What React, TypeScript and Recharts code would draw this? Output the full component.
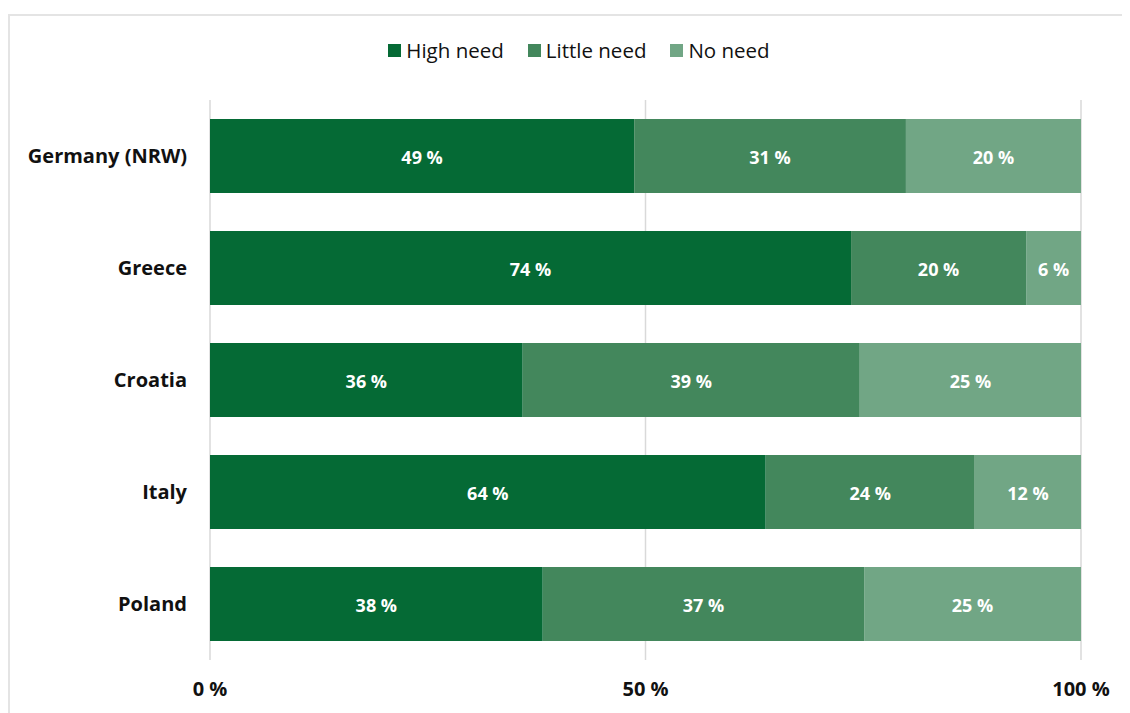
import React from 'react';
import { BarChart, Bar, XAxis, YAxis, CartesianGrid, Legend, LabelList } from 'recharts';

const countries = ['Germany (NRW)', 'Greece', 'Croatia', 'Italy', 'Poland'];
const highNeed = [48.7, 73.6, 35.9, 63.8, 38.2];
const littleNeed = [31.2, 20.1, 38.7, 24.0, 36.9];
const noNeed = [20.1, 6.3, 25.4, 12.2, 24.9];
const xTicks = [0, 50, 100];

const seriesNames = ['High need', 'Little need', 'No need'];
const colors = ['#056a35', '#43875c', '#71a685'];

const data = countries.map((name, i) => ({
  name,
  high: highNeed[i],
  little: littleNeed[i],
  none: noNeed[i],
}));

const FONT = '"Open Sans", "Noto Sans", sans-serif';

const pct = (v: any) => `${Math.round(Number(v))} %`;

const LegendContent = () => (
  <div
    style={{
      height: 40,
      display: 'flex',
      justifyContent: 'center',
      alignItems: 'center',
      fontFamily: FONT,
      fontSize: 20.5,
      color: '#111',
    }}
  >
    {seriesNames.map((n, i) => (
      <div key={n} style={{ display: 'flex', alignItems: 'center', marginRight: i < 2 ? 24 : 0 }}>
        <span style={{ width: 13, height: 13, background: colors[i], marginRight: 5, display: 'inline-block' }} />
        <span>{n}</span>
      </div>
    ))}
  </div>
);

const labelStyle = { fill: '#fff', fontFamily: FONT, fontSize: 18, fontWeight: 700, dy: 2 };

export default function App() {
  return (
    <div
      style={{
        position: 'relative',
        top: 6,
        width: 1140,
        height: 720,
        border: '2px solid #e4e4e4',
        background: '#fff',
      }}
    >
      <BarChart
        width={1120}
        height={700}
        data={data}
        layout="vertical"
        barCategoryGap={19}
        margin={{ top: 44, right: 49, bottom: 16, left: 0 }}
      >
        <CartesianGrid horizontal={false} stroke="#d9d9d9" strokeWidth={1.5} />
        <Legend
          verticalAlign="top"
          content={<LegendContent />}
          wrapperStyle={{ top: 14, left: 0, width: 1138 }}
        />
        <XAxis
          type="number"
          domain={[0, 100]}
          ticks={xTicks}
          axisLine={false}
          tickLine={false}
          tickMargin={16}
          height={40}
          tickFormatter={pct}
          tick={{ fontFamily: FONT, fontSize: 20, fontWeight: 700, fill: '#111' }}
        />
        <YAxis
          type="category"
          dataKey="name"
          width={200}
          axisLine={false}
          tickLine={false}
          tickMargin={17}
          tick={{ fontFamily: FONT, fontSize: 20, fontWeight: 700, fill: '#111' }}
        />
        <Bar dataKey="high" stackId="a" fill={colors[0]} name={seriesNames[0]} isAnimationActive={false}>
          <LabelList dataKey="high" position="center" formatter={pct} {...labelStyle} />
        </Bar>
        <Bar dataKey="little" stackId="a" fill={colors[1]} name={seriesNames[1]} isAnimationActive={false}>
          <LabelList dataKey="little" position="center" formatter={pct} {...labelStyle} />
        </Bar>
        <Bar dataKey="none" stackId="a" fill={colors[2]} name={seriesNames[2]} isAnimationActive={false}>
          <LabelList dataKey="none" position="center" formatter={pct} {...labelStyle} />
        </Bar>
      </BarChart>
    </div>
  );
}
